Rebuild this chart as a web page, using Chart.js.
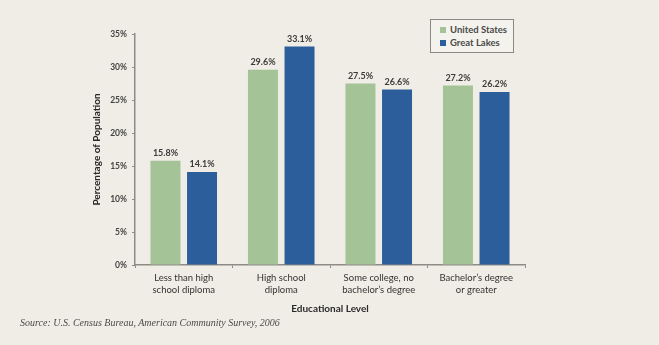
<!DOCTYPE html>
<html>
<head>
<meta charset="utf-8">
<script src="https://cdn.jsdelivr.net/npm/chart.js@4/dist/chart.umd.min.js"></script>
<style>
  html, body { margin: 0; padding: 0; background: #efede5; }
  #wrap { position: relative; width: 659px; height: 345px; }
  #legend {
    position: absolute; left: 430px; top: 19px; width: 82px; height: 32px;
    border: 1px solid #8c8780; background: #f4f2ec;
    font: bold 9.5px Lato, sans-serif; color: #4a4a4a;
  }
  #legend div { position: absolute; left: 9px; white-space: nowrap; }
  #legend span { display: inline-block; width: 6px; height: 6px; margin-right: 4px; vertical-align: 0px; }
  #source {
    position: absolute; left: 20px; top: 317px;
    font: italic 10px "Liberation Serif", serif; color: #4a4a4a;
  }
</style>
</head>
<body>
<div id="wrap">
  <canvas id="eduChart" width="659" height="345"></canvas>
  <div id="legend"></div>
  <div id="source">Source: U.S. Census Bureau, American Community Survey, 2006</div>
</div>
<script>
const categories = [
  ['Less than high', 'school diploma'],
  ['High school', 'diploma'],
  ['Some college, no', 'bachelor\u2019s degree'],
  ['Bachelor\u2019s degree', 'or greater']
];
const seriesNames = ['United States', 'Great Lakes'];
const unitedStates = [15.8, 29.6, 27.5, 27.2];
const greatLakes = [14.1, 33.1, 26.6, 26.2];
const yTicks = [0, 5, 10, 15, 20, 25, 30, 35];
const colors = ['#a4c497', '#2c5e9c'];

// legend built from the series names
const legend = document.getElementById('legend');
seriesNames.forEach((name, i) => {
  const row = document.createElement('div');
  row.style.top = (i === 0 ? 4 : 17) + 'px';
  row.innerHTML = '<span style="background:' + colors[i] + '"></span>' + name;
  legend.appendChild(row);
});

// value labels above each bar
const valueLabels = {
  id: 'valueLabels',
  afterDatasetsDraw(chart) {
    const ctx = chart.ctx;
    ctx.save();
    ctx.font = 'bold 9px Lato, sans-serif';
    ctx.fillStyle = '#3b3b3b';
    ctx.textAlign = 'center';
    ctx.textBaseline = 'bottom';
    chart.data.datasets.forEach((ds, i) => {
      chart.getDatasetMeta(i).data.forEach((bar, j) => {
        ctx.fillText(ds.data[j].toFixed(1) + '%', bar.x, bar.y - 3);
      });
    });
    ctx.restore();
  }
};

new Chart(document.getElementById('eduChart'), {
  type: 'bar',
  data: {
    labels: categories,
    datasets: [
      { label: seriesNames[0], data: unitedStates, backgroundColor: colors[0] },
      { label: seriesNames[1], data: greatLakes, backgroundColor: colors[1] }
    ]
  },
  options: {
    responsive: false,
    animation: false,
    devicePixelRatio: 1,
    layout: { padding: { left: 87, top: 34, right: 134, bottom: 26 } },
    categoryPercentage: 0.75,
    barPercentage: 0.82,
    plugins: {
      legend: { display: false },
      tooltip: { enabled: false }
    },
    scales: {
      x: {
        afterFit: s => { s.height = 54; },
        grid: { drawOnChartArea: false, tickLength: 3, color: '#8f8a85' },
        border: { color: '#8f8a85', width: 1.5 },
        ticks: {
          color: '#333', padding: 4,
          font: { family: 'Lato, sans-serif', size: 9.5, lineHeight: 1.25 },
          maxRotation: 0, autoSkip: false
        },
        title: {
          display: true, text: 'Educational Level', color: '#2a2a2a',
          font: { family: 'Lato, sans-serif', size: 10, weight: 'bold' }
        }
      },
      y: {
        min: 0, max: 35,
        afterFit: s => { s.width = 48; },
        afterBuildTicks: s => { s.ticks = yTicks.map(v => ({ value: v })); },
        grid: { drawOnChartArea: false, tickLength: 3, color: '#8f8a85' },
        border: { color: '#8f8a85', width: 1.5 },
        ticks: {
          color: '#444', padding: 5,
          font: { family: 'Lato, sans-serif', size: 8.5, weight: 'bold' },
          callback: v => v + '%'
        },
        title: {
          display: true, text: 'Percentage of Population', color: '#2a2a2a',
          font: { family: 'Lato, sans-serif', size: 10, weight: 'bold' }
        }
      }
    }
  },
  plugins: [valueLabels]
});
</script>
</body>
</html>
